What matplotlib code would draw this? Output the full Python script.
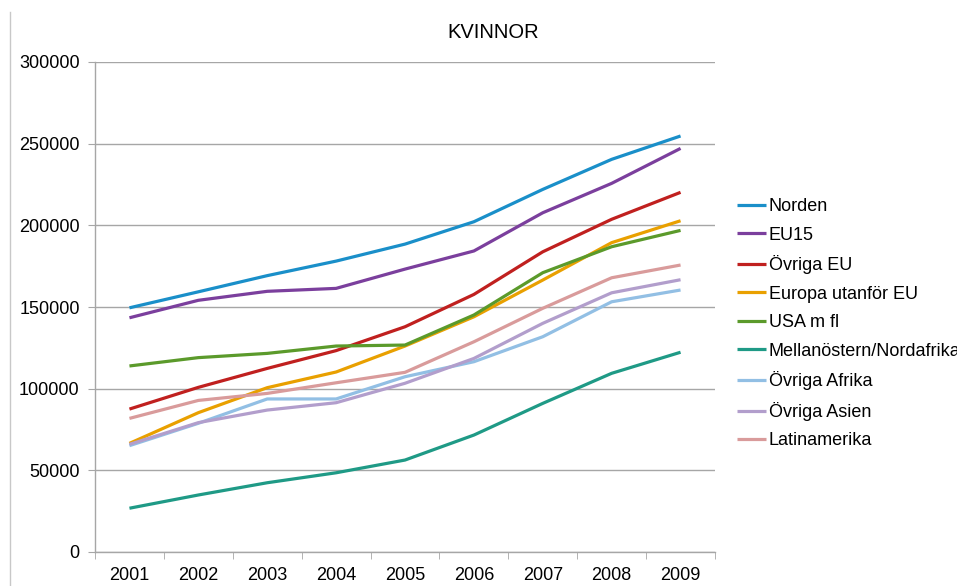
import numpy as np
import matplotlib
matplotlib.use('Agg')
import matplotlib.pyplot as plt
from matplotlib.lines import Line2D

plt.rcParams['font.family'] = ['Liberation Sans', 'DejaVu Sans']

years = ['2001', '2002', '2003', '2004', '2005', '2006', '2007', '2008', '2009']

norden = [149500, 159300, 169200, 178100, 188500, 202200, 222000, 240400, 254700]
eu15 = [143400, 154100, 159600, 161400, 173200, 184300, 207700, 225700, 247100]
ovriga_eu = [87500, 100800, 112400, 123300, 137900, 157700, 183800, 203700, 220200]
europa_utanfor = [66500, 85300, 100600, 110200, 126100, 144000, 166500, 189400, 202800]
usa = [113900, 119000, 121600, 126100, 126700, 145100, 171000, 186900, 196900]
mellanostern = [26800, 34900, 42400, 48500, 56300, 71600, 91000, 109400, 122300]
ovriga_afrika = [65100, 78800, 93700, 93700, 107300, 116500, 131800, 153200, 160400]
ovriga_asien = [65900, 79200, 86900, 91400, 103300, 118500, 140000, 158700, 166700]
latinamerika = [81800, 92800, 97100, 103600, 110000, 128700, 149200, 167900, 175700]

series = [
    ('Norden', norden, '#1a8fc9'),
    ('EU15', eu15, '#7b3f9d'),
    ('Övriga EU', ovriga_eu, '#c0201f'),
    ('Europa utanför EU', europa_utanfor, '#e9a000'),
    ('USA m fl', usa, '#5b9a2b'),
    ('Mellanöstern/Nordafrika', mellanostern, '#1f9a86'),
    ('Övriga Afrika', ovriga_afrika, '#92bfe4'),
    ('Övriga Asien', ovriga_asien, '#b29ecc'),
    ('Latinamerika', latinamerika, '#d99b9b'),
]

fig = plt.figure(figsize=(9.57, 5.86), dpi=100)
ax = fig.add_axes([95/957, 34/586, 620/957, 490/586])

x = np.arange(len(years))
for name, vals, col in series:
    ax.plot(x, vals, color=col, lw=2.3, label=name, solid_capstyle='butt')

grid_col = '#a6a6a6'
ax.set_xlim(-0.5, len(years) - 0.5)
ax.set_ylim(0, 300000)
ax.set_yticks(np.arange(0, 300001, 50000))
ax.set_yticklabels([str(v) for v in range(0, 300001, 50000)], fontsize=13)
ax.set_xticks(x)
ax.set_xticklabels(years, fontsize=13)
ax.set_xticks(np.arange(-0.5, len(years), 1), minor=True)
ax.tick_params(axis='x', which='major', length=0, pad=11)
ax.tick_params(axis='x', which='minor', length=5, color=grid_col, direction='out')
ax.tick_params(axis='y', length=5, color=grid_col, pad=6)
ax.grid(axis='y', color=grid_col, lw=1)
ax.set_axisbelow(True)
for s in ['top', 'right']:
    ax.spines[s].set_visible(False)
for s in ['left', 'bottom']:
    ax.spines[s].set_color(grid_col)
    ax.spines[s].set_linewidth(1)

fig.text(493/957, 1 - 32/586, 'KVINNOR', ha='center', va='center', fontsize=14.5)

fig.legend(loc='upper left', bbox_to_anchor=(737/957, 1 - 198/586), frameon=False,
           fontsize=13, handlelength=1.6, handletextpad=0.15, labelspacing=0.64,
           borderpad=0, borderaxespad=0)

fig.add_artist(Line2D([10/957, 10/957], [0, 1 - 12/586], color='#c8c8c8', lw=1,
                      transform=fig.transFigure))

fig.savefig('out.png', dpi=100)
